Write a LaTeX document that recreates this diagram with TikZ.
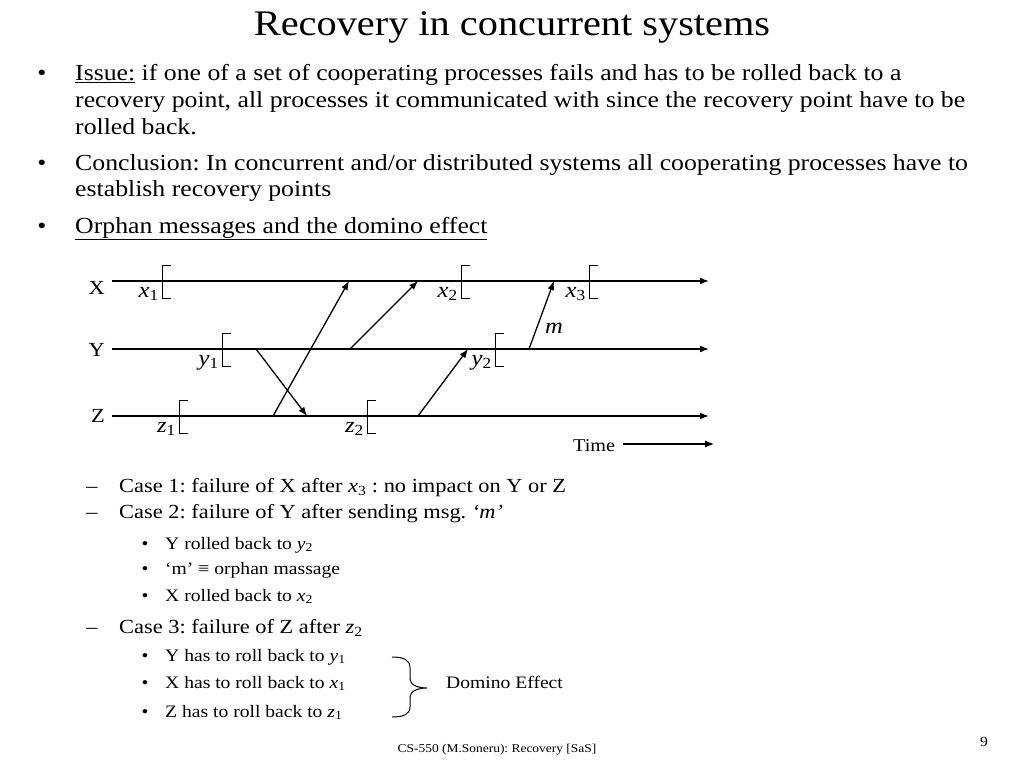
\documentclass[tikz,border=0pt]{standalone}
\usepackage{fontspec}
\setmainfont{Liberation Serif}[FakeStretch=1.12]
\usetikzlibrary{arrows.meta}
\frenchspacing

\begin{document}
\begin{tikzpicture}[>={Latex[length=9pt,width=7pt]},x=1pt,y=-1pt,
  txt/.style={anchor=base west,inner sep=0pt},
  body/.style={txt,font=\fontsize{23}{26}\selectfont},
  case/.style={txt,font=\fontsize{20}{24}\selectfont},
  sub/.style={txt,font=\fontsize{17.5}{21}\selectfont},
  procline/.style={->,line width=1.6pt},
  msg/.style={->,line width=1.3pt},
  ckpt/.style={line width=0.8pt},
  ckptlab/.style={anchor=base east,inner sep=0pt,font=\fontsize{22}{26}\selectfont\itshape}]
  \fill[white] (0,0) rectangle (1024,768);
  \useasboundingbox (0,0) rectangle (1024,768);
  % Title and bullets
  \node[anchor=base,inner sep=0pt,font=\fontsize{36}{42}\selectfont] (title) at (512,36) {Recovery in concurrent systems};
  \node[body,anchor=base] (dot1) at (42,80) {•};
  \node[body] (issue1) at (75,80) {\underline{Issue:} if one of a set of cooperating processes fails and has to be rolled back to a};
  \node[body] (issue2) at (75,107) {recovery point, all processes it communicated with since the recovery point have to be};
  \node[body] (issue3) at (75,134) {rolled back.};
  \node[body,anchor=base] (dot2) at (42,170) {•};
  \node[body] (concl1) at (75,170) {Conclusion: In concurrent and/or distributed systems all cooperating processes have to};
  \node[body] (concl2) at (75,196) {establish recovery points};
  \node[body,anchor=base] (dot3) at (42,233) {•};
  \node[body] (orphan) at (75,233) {\underline{Orphan messages and the domino effect}};
  % Processes
  \node[case,anchor=base east,font=\fontsize{20}{24}\selectfont] (X) at (105,294) {X};
  \node[case,anchor=base east,font=\fontsize{20}{24}\selectfont] (Y) at (105,356) {Y};
  \node[case,anchor=base east,font=\fontsize{20}{24}\selectfont] (Z) at (105,422) {Z};
  \coordinate (Xs) at (112,281); \coordinate (Xe) at (709,281);
  \coordinate (Ys) at (112,349); \coordinate (Ye) at (709,349);
  \coordinate (Zs) at (112,416); \coordinate (Ze) at (709,416);
  \draw[procline] (Xs) -- (Xe);
  \draw[procline] (Ys) -- (Ye);
  \draw[procline] (Zs) -- (Ze);
  % Recovery points
  \foreach \cx/\cy/\cl/\cs in {162/281/x/1,461/281/x/2,589/281/x/3,222/349/y/1,495/349/y/2,179/416/z/1,367/416/z/2}{
    \draw[ckpt] (\cx+9,\cy-16) -- (\cx,\cy-16) -- (\cx,\cy+17) -- (\cx+9,\cy+17);
    \node[ckptlab] (\cl\cs) at (\cx-3,\cy+16) {\cl\textsubscript{\upshape\cs}};
  }
  % Messages
  \coordinate (zsend1) at (273,416); \coordinate (xrecv1) at (349,281);
  \coordinate (ysend1) at (256,349); \coordinate (zrecv1) at (307,416);
  \coordinate (ysend2) at (350,349); \coordinate (xrecv2) at (418,281);
  \coordinate (zsend2) at (418,416); \coordinate (yrecv2) at (468,349);
  \coordinate (msend) at (529,349);  \coordinate (mrecv) at (554,281);
  \draw[msg] (zsend1) -- (xrecv1);
  \draw[msg] (ysend1) -- (zrecv1);
  \draw[msg] (ysend2) -- (xrecv2);
  \draw[msg] (zsend2) -- (yrecv2);
  \draw[msg] (msend) -- (mrecv);
  \node[ckptlab,anchor=base west] (m) at (545,333) {m};
  \node[txt,font=\fontsize{18}{21}\selectfont] (time) at (573,451) {Time};
  \coordinate (ts) at (623,444); \coordinate (te) at (714,444);
  \draw[->,line width=1.2pt] (ts) -- (te);
  % Cases
  \node[case,anchor=base] (dash1) at (92,492) {–};
  \node[case] (case1) at (119,492) {Case 1: failure of X after \textit{x}\textsubscript{3} : no impact on Y or Z};
  \node[case,anchor=base] (dash2) at (92,518) {–};
  \node[case] (case2) at (119,518) {Case 2: failure of Y after sending msg. \textit{‘m’}};
  \node[sub,anchor=base] (sd1) at (145,549) {•};
  \node[sub] (sub1) at (165,549) {Y rolled back to \textit{y}\textsubscript{2}};
  \node[sub,anchor=base] (sd2) at (145,574) {•};
  \node[sub] (sub2) at (165,574) {‘m’ ≡ orphan massage};
  \node[sub,anchor=base] (sd3) at (145,601) {•};
  \node[sub] (sub3) at (165,601) {X rolled back to \textit{x}\textsubscript{2}};
  \node[case,anchor=base] (dash3) at (92,633) {–};
  \node[case] (case3) at (119,633) {Case 3: failure of Z after \textit{z}\textsubscript{2}};
  \node[sub,anchor=base] (sd4) at (145,661) {•};
  \node[sub] (sub4) at (165,661) {Y has to roll back to \textit{y}\textsubscript{1}};
  \node[sub,anchor=base] (sd5) at (145,688) {•};
  \node[sub] (sub5) at (165,688) {X has to roll back to \textit{x}\textsubscript{1}};
  \node[sub,anchor=base] (sd6) at (145,717) {•};
  \node[sub] (sub6) at (165,717) {Z has to roll back to \textit{z}\textsubscript{1}};
  % Brace
  \draw[line width=1pt] (392,657) .. controls (404,657) and (410,660) .. (410,668) -- (410,679)
    .. controls (410,685) and (418,688) .. (427,688) .. controls (418,688) and (410,691) .. (410,697)
    -- (410,707) .. controls (410,714) and (404,717) .. (392,717);
  \node[sub] (domino) at (446,688) {Domino Effect};
  % Footer
  \node[anchor=base,inner sep=0pt,font=\fontsize{12}{14}\selectfont] (footer) at (497,752) {CS-550 (M.Soneru): Recovery [SaS]};
  \node[anchor=base,inner sep=0pt,font=\fontsize{14}{16}\selectfont] (pagenum) at (984,746) {9};
\end{tikzpicture}
\end{document}
